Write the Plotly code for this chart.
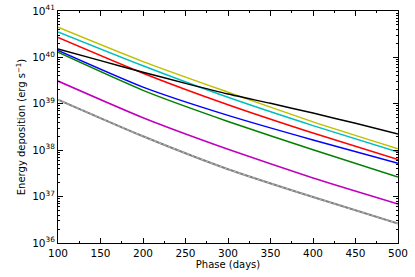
import plotly.graph_objects as go

phase = [100, 200, 300, 400, 500]

# log10 of energy deposition (erg/s)
yellow = [40.65, 39.91, 39.25, 38.61, 38.03]
cyan = [40.55, 39.82, 39.14, 38.53, 37.96]
red = [40.43, 39.66, 38.98, 38.37, 37.80]
blue = [40.15, 39.36, 38.75, 38.22, 37.72]
green = [40.11, 39.29, 38.62, 38.01, 37.42]
magenta = [39.49, 38.70, 38.02, 37.40, 36.84]
gray = [39.09, 38.30, 37.59, 36.99, 36.42]

black_phase = [100, 150, 200, 250, 300, 350, 400, 450, 500]
black = [40.18, 39.93, 39.68, 39.44, 39.21, 39.01, 38.80, 38.58, 38.35]

xticks = [100, 150, 200, 250, 300, 350, 400, 450, 500]
yexp = [36, 37, 38, 39, 40, 41]

series = [
    (phase, yellow, "#bfbf00"),
    (phase, cyan, "#00bfbf"),
    (phase, red, "#ff0000"),
    (phase, blue, "#0000ff"),
    (phase, green, "#008000"),
    (phase, magenta, "#bf00bf"),
    (black_phase, black, "#000000"),
]

fig = go.Figure()
for xs, ys, col in series:
    fig.add_trace(go.Scatter(x=xs, y=[10.0 ** v for v in ys], mode="lines",
                             line=dict(color=col, width=1.5, shape="spline", smoothing=0.6),
                             showlegend=False))
fig.add_trace(go.Scatter(x=phase, y=[10.0 ** v for v in gray], mode="lines",
                         line=dict(color="#808080", width=2, shape="spline", smoothing=0.6),
                         showlegend=False))
fig.add_trace(go.Scatter(x=phase, y=[10.0 ** v for v in gray], mode="lines",
                         line=dict(color="#c8c8c8", width=1, dash="2px,3px", shape="spline", smoothing=0.6),
                         showlegend=False))

font = dict(family="DejaVu Sans", size=10, color="black")

minor_vals = [float(k) * 10.0 ** e for e in range(36, 41) for k in range(2, 10)]

fig.update_layout(
    width=415, height=277,
    margin=dict(l=58, r=17, t=11, b=34),
    plot_bgcolor="white", paper_bgcolor="white",
    font=font,
    xaxis=dict(range=[100, 500], tickvals=xticks, ticks="inside", ticklen=5,
               tickcolor="black", showline=True, linecolor="black", linewidth=1,
               mirror="ticks", showgrid=False, zeroline=False, automargin=False,
               tickfont=dict(family="DejaVu Sans", size=10.5, color="black"),
               title=dict(text="Phase (days)", font=font, standoff=0),
               minor=dict(tickvals=[125, 175, 225, 275, 325, 375, 425, 475],
                          ticks="inside", ticklen=2, tickcolor="black")),
    yaxis=dict(type="log", range=[36, 41], tickvals=[10.0 ** e for e in yexp],
               ticktext=["10<sup>%d</sup>" % e for e in yexp],
               ticks="inside", ticklen=5, tickcolor="black",
               showline=True, linecolor="black", linewidth=1, mirror="ticks",
               showgrid=False, zeroline=False, automargin=False,
               tickfont=dict(family="DejaVu Sans", size=10.5, color="black"),
               title=dict(text="Energy deposition (erg s<sup>\u22121</sup>)", font=font, standoff=4),
               minor=dict(tickvals=minor_vals, ticks="inside", ticklen=2, tickcolor="black")),
)

fig.write_html("out.html", config={"displayModeBar": False},
               post_script="document.body.style.margin='0';document.body.style.overflow='hidden';")
